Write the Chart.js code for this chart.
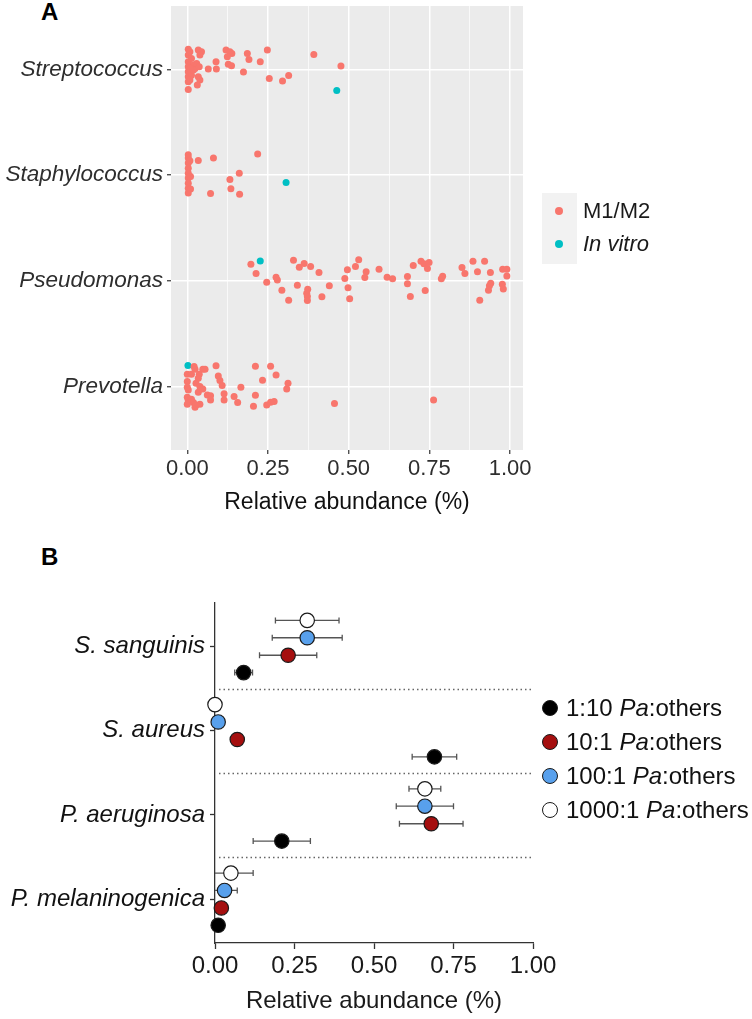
<!DOCTYPE html>
<html>
<head>
<meta charset="utf-8">
<script src="https://cdn.jsdelivr.net/npm/chart.js@4.4.1/dist/chart.umd.min.js"></script>
<style>
  body { margin: 0; background: #fff; font-family: 'Liberation Sans', Arial, sans-serif; }
  #wrap { position: relative; width: 752px; height: 1019px; overflow: hidden; }
  canvas { position: absolute; left: 0; }
  .panel { position: absolute; font-weight: bold; font-size: 24px; color: #000; line-height: 1; }
  .leg { position: absolute; font-size: 22px; color: #1a1a1a; white-space: nowrap; line-height: 26px; height: 26px; }
  .legB { font-size: 24px; line-height: 28px; height: 28px; color: #111; }
  .dot { position: absolute; border-radius: 50%; box-sizing: border-box; }
</style>
</head>
<body>
<div id="wrap">
  <div class="panel" style="left:41px; top:0px;">A</div>
  <div class="panel" style="left:41px; top:545px;">B</div>
  <canvas id="chartA" width="752" height="540" style="top:0"></canvas>
  <canvas id="chartB" width="752" height="479" style="top:540px"></canvas>
  <div id="legendA"></div>
  <div id="legendB"></div>
</div>

<script>
// ---- panel A: genus abundance, M1/M2 vs in vitro ----
const genera = ['Streptococcus', 'Staphylococcus', 'Pseudomonas', 'Prevotella'];
const groupsA = ['M1/M2', 'In vitro'];
const xTicksA = [0, 0.125, 0.25, 0.375, 0.5, 0.625, 0.75, 0.875, 1];

// [relative abundance, vertical jitter]
const streptococcusM1M2 = [
  [0.003, -0.19], [0.003, -0.136], [0.003, -0.073], [0.003, -0.025], [0.003, 0.022],
  [0.003, 0.069], [0.003, 0.117], [0.003, 0.189], [0.008, -0.167], [0.013, -0.104],
  [0.019, -0.041], [0.024, -0.009], [0.013, 0.054], [0.008, 0.101], [0.034, -0.183],
  [0.044, -0.167], [0.039, -0.136], [0.029, -0.057], [0.037, -0.025], [0.034, 0.069],
  [0.039, 0.101], [0.031, 0.148], [0.019, 0.006], [0.008, -0.01], [0.065, -0.003],
  [0.089, -0.073], [0.090, -0.003], [0.120, -0.183], [0.132, -0.167], [0.138, -0.151],
  [0.124, -0.120], [0.127, -0.050], [0.137, -0.035], [0.174, 0.025], [0.186, -0.151],
  [0.191, -0.095], [0.226, -0.073], [0.248, -0.183], [0.254, 0.085], [0.295, 0.110],
  [0.314, 0.057], [0.392, -0.142], [0.476, -0.032]
];
const streptococcusInVitro = [[0.463, 0.199]];

const staphylococcusM1M2 = [
  [0.003, -0.192], [0.003, -0.161], [0.003, -0.114], [0.003, -0.066], [0.003, -0.019],
  [0.003, 0.028], [0.003, 0.076], [0.003, 0.123], [0.003, 0.170], [0.008, -0.136],
  [0.010, 0.013], [0.010, 0.132], [0.034, -0.139], [0.081, -0.161], [0.218, -0.199],
  [0.161, -0.019], [0.132, 0.041], [0.135, 0.129], [0.072, 0.174], [0.162, 0.180]
];
const staphylococcusInVitro = [[0.306, 0.069]];

const pseudomonasM1M2 = [
  [0.197, -0.158], [0.213, -0.069], [0.246, 0.013], [0.275, -0.035], [0.279, -0.009],
  [0.293, 0.088], [0.314, 0.183], [0.329, -0.196], [0.347, -0.129], [0.362, -0.164],
  [0.341, 0.041], [0.382, -0.136], [0.373, 0.079], [0.370, 0.117], [0.372, 0.148],
  [0.372, 0.186], [0.408, -0.079], [0.417, 0.151], [0.440, 0.047], [0.488, -0.022],
  [0.496, -0.104], [0.498, 0.066], [0.503, 0.170], [0.521, -0.136], [0.531, -0.199],
  [0.554, -0.085], [0.550, -0.032], [0.594, -0.110], [0.619, -0.035], [0.636, -0.019],
  [0.682, -0.041], [0.682, 0.028], [0.691, 0.148], [0.700, -0.145], [0.724, -0.186],
  [0.733, -0.161], [0.749, -0.174], [0.744, -0.117], [0.737, 0.091], [0.787, -0.019],
  [0.791, -0.044], [0.851, -0.126], [0.860, -0.069], [0.885, -0.186], [0.899, -0.085],
  [0.921, -0.186], [0.939, -0.079], [0.940, 0.022], [0.936, 0.047], [0.933, 0.088],
  [0.906, 0.183], [0.977, -0.110], [0.990, -0.110], [0.990, -0.047], [0.976, 0.032],
  [0.979, 0.076]
];
const pseudomonasInVitro = [[0.226, -0.189]];

const prevotellaM1M2 = [
  [0.021, -0.189], [0.024, -0.164], [0.048, -0.164], [0.055, -0.164], [0.089, -0.196],
  [0.000, -0.117], [0.013, -0.117], [0.037, -0.117], [0.034, -0.079], [0.000, -0.047],
  [0.027, -0.032], [0.039, 0.000], [0.000, 0.006], [0.003, 0.032], [0.034, 0.054],
  [0.048, 0.022], [0.062, 0.079], [0.072, 0.088], [0.072, 0.126], [0.000, 0.101],
  [0.003, 0.132], [0.000, 0.167], [0.013, 0.120], [0.019, 0.151], [0.024, 0.196],
  [0.039, 0.167], [0.027, 0.174], [0.096, -0.101], [0.101, -0.057], [0.108, -0.009],
  [0.114, 0.069], [0.114, 0.126], [0.145, 0.095], [0.156, 0.151], [0.166, 0.006],
  [0.211, -0.192], [0.258, -0.192], [0.275, -0.110], [0.233, -0.060], [0.312, -0.032],
  [0.308, 0.022], [0.211, 0.082], [0.205, 0.186], [0.246, 0.174], [0.258, 0.148],
  [0.269, 0.142], [0.456, 0.161], [0.763, 0.126]
];
const prevotellaInVitro = [[0.002, -0.199]];

// ---- panel B: co-culture ratios ----
const species = ['S. sanguinis', 'S. aureus', 'P. aeruginosa', 'P. melaninogenica'];
const ratios = ['1:10', '10:1', '100:1', '1000:1'];
const xTicksB = [0, 0.25, 0.5, 0.75, 1];

const mean1to10 = [0.09, 0.69, 0.21, 0.01];
const err1to10 = [0.028, 0.07, 0.09, 0];
const mean10to1 = [0.23, 0.07, 0.68, 0.02];
const err10to1 = [0.09, 0.005, 0.10, 0];
const mean100to1 = [0.29, 0.01, 0.66, 0.03];
const err100to1 = [0.11, 0, 0.09, 0.04];
const mean1000to1 = [0.29, 0.0, 0.66, 0.05];
const err1000to1 = [0.10, 0, 0.05, 0.07];

const FONT = "'Liberation Sans', Arial, sans-serif";
const colM1 = '#F8766D';
const colVitro = '#00BFC4';
const ratioColors = ['#000000', '#A50F0F', '#58A0EC', '#FFFFFF'];
const dodge = [0.31, 0.104, -0.104, -0.31];

// ---------- chart A ----------
const toPoints = (pairs, cat) => pairs.map(([x, j]) => ({ x: x, y: cat + j }));
const m1Data = [streptococcusM1M2, staphylococcusM1M2, pseudomonasM1M2, prevotellaM1M2]
  .flatMap((arr, i) => toPoints(arr, i + 1));
const vitroData = [streptococcusInVitro, staphylococcusInVitro, pseudomonasInVitro, prevotellaInVitro]
  .flatMap((arr, i) => toPoints(arr, i + 1));

const isMajor = v => Math.abs(v * 4 - Math.round(v * 4)) < 1e-9;

const panelBackground = {
  id: 'panelBackground',
  beforeDraw(chart) {
    const { ctx, chartArea: a } = chart;
    ctx.save();
    ctx.fillStyle = '#EBEBEB';
    ctx.fillRect(a.left, a.top, a.right - a.left, a.bottom - a.top);
    ctx.restore();
  }
};

new Chart(document.getElementById('chartA'), {
  type: 'scatter',
  data: {
    datasets: [
      { label: groupsA[0], data: m1Data, pointRadius: 3.5, pointBackgroundColor: colM1, pointBorderWidth: 0 },
      { label: groupsA[1], data: vitroData, pointRadius: 3.5, pointBackgroundColor: colVitro, pointBorderWidth: 0 }
    ]
  },
  options: {
    responsive: false,
    animation: false,
    devicePixelRatio: 1,
    layout: { padding: { left: 0, right: 229, top: 6, bottom: 0 } },
    plugins: { legend: { display: false }, tooltip: { enabled: false } },
    scales: {
      x: {
        type: 'linear', min: -0.0505, max: 1.04,
        afterBuildTicks: s => { s.ticks = xTicksA.map(v => ({ value: v })); },
        afterFit: s => { s.height = 90; },
        border: { display: false },
        grid: {
          color: '#FFFFFF',
          lineWidth: c => (c.tick && isMajor(c.tick.value)) ? 1.5 : 0.7,
          drawTicks: true, tickLength: 4, tickWidth: 1.2,
          tickColor: c => (c.tick && isMajor(c.tick.value)) ? '#333333' : 'rgba(0,0,0,0)'
        },
        ticks: {
          autoSkip: false, maxRotation: 0, padding: 2, color: '#2e2e2e',
          font: { family: FONT, size: 22 },
          callback: v => isMajor(v) ? v.toFixed(2) : ''
        },
        title: {
          display: true, text: 'Relative abundance (%)', color: '#111111',
          font: { family: FONT, size: 23 }, padding: { top: 0, bottom: 24 }
        }
      },
      y: {
        type: 'linear', reverse: true, min: 0.4, max: 4.6,
        afterBuildTicks: s => { s.ticks = genera.map((g, i) => ({ value: i + 1 })); },
        afterFit: s => { s.width = 171; s.paddingTop = 0; s.paddingBottom = 0; },
        border: { display: false },
        grid: { color: '#FFFFFF', lineWidth: 1.5, tickLength: 4, tickWidth: 1.2, tickColor: '#333333' },
        ticks: {
          padding: 4, color: '#2e2e2e',
          font: { family: FONT, size: 22.5, style: 'italic' },
          callback: v => genera[Math.round(v) - 1]
        }
      }
    }
  },
  plugins: [panelBackground]
});

// ---------- chart B ----------
const meansB = [mean1to10, mean10to1, mean100to1, mean1000to1];
const errsB = [err1to10, err10to1, err100to1, err1000to1];

const datasetsB = ratios.map((r, g) => ({
  label: r + ' Pa:others',
  data: species.map((s, i) => ({ x: meansB[g][i], y: i + 1 + dodge[g], err: errsB[g][i] })),
  pointRadius: 7.2,
  pointBackgroundColor: ratioColors[g],
  pointBorderColor: '#1a1a1a',
  pointBorderWidth: 1.2,
  clip: false
}));

const errorBars = {
  id: 'errorBars',
  beforeDatasetsDraw(chart) {
    const { ctx, scales: { x, y } } = chart;
    ctx.save();
    ctx.strokeStyle = '#555555';
    ctx.lineWidth = 1.3;
    chart.data.datasets.forEach(ds => ds.data.forEach(p => {
      if (!p.err) return;
      const py = y.getPixelForValue(p.y);
      const lo = p.x - p.err;
      const x1 = x.getPixelForValue(Math.max(0, lo));
      const x2 = x.getPixelForValue(p.x + p.err);
      ctx.beginPath();
      ctx.moveTo(x1, py); ctx.lineTo(x2, py);
      if (lo > 0) { ctx.moveTo(x1, py - 3); ctx.lineTo(x1, py + 3); }
      ctx.moveTo(x2, py - 3); ctx.lineTo(x2, py + 3);
      ctx.stroke();
    }));
    ctx.restore();
  }
};

const separators = {
  id: 'separators',
  beforeDatasetsDraw(chart) {
    const { ctx, chartArea: a, scales: { y } } = chart;
    ctx.save();
    ctx.strokeStyle = '#666666';
    ctx.lineWidth = 1.5;
    ctx.setLineDash([1.5, 3]);
    for (let i = 1; i < species.length; i++) {
      const py = Math.round(y.getPixelForValue(i + 0.5)) + 0.5;
      ctx.beginPath();
      ctx.moveTo(a.left + 4, py);
      ctx.lineTo(a.right, py);
      ctx.stroke();
    }
    ctx.restore();
  }
};

new Chart(document.getElementById('chartB'), {
  type: 'scatter',
  data: { datasets: datasetsB },
  options: {
    responsive: false,
    animation: false,
    devicePixelRatio: 1,
    layout: { padding: { left: 0, right: 219, top: 62.7, bottom: 0 } },
    plugins: { legend: { display: false }, tooltip: { enabled: false } },
    scales: {
      x: {
        type: 'linear', min: 0, max: 1,
        afterBuildTicks: s => { s.ticks = xTicksB.map(v => ({ value: v })); },
        afterFit: s => { s.height = 76; },
        border: { display: true, color: '#333333', width: 1.3 },
        grid: { drawOnChartArea: false, drawTicks: true, tickLength: 6, tickWidth: 1.3, tickColor: '#333333' },
        ticks: {
          autoSkip: false, maxRotation: 0, padding: 3, color: '#1a1a1a',
          font: { family: FONT, size: 24 },
          callback: v => v.toFixed(2)
        },
        title: {
          display: true, text: 'Relative abundance (%)', color: '#1a1a1a',
          font: { family: FONT, size: 24 }, padding: { top: 0, bottom: 3 }
        }
      },
      y: {
        type: 'linear', reverse: true, min: 0.48, max: 4.52,
        afterBuildTicks: s => { s.ticks = species.map((sp, i) => ({ value: i + 1 })); },
        afterFit: s => { s.width = 215; },
        border: { display: true, color: '#333333', width: 1.3 },
        grid: { drawOnChartArea: false, drawTicks: true, tickLength: 5, tickWidth: 1.3, tickColor: '#333333' },
        ticks: {
          padding: 5, color: '#111111',
          font: { family: FONT, size: 24, style: 'italic' },
          callback: v => species[Math.round(v) - 1]
        }
      }
    }
  },
  plugins: [separators, errorBars]
});

// ---------- legends ----------
const legA = document.getElementById('legendA');
legA.innerHTML =
  '<div style="position:absolute;left:542px;top:193px;width:35px;height:71px;background:#F2F2F2"></div>' +
  [colM1, colVitro].map((c, i) => {
    const cy = 211 + i * 33;
    const label = i === 1 ? '<i>' + groupsA[1] + '</i>' : groupsA[0];
    return '<div class="dot" style="left:555px;top:' + (cy - 4) + 'px;width:8px;height:8px;background:' + c + '"></div>' +
      '<div class="leg" style="left:583px;top:' + (cy - 13) + 'px">' + label + '</div>';
  }).join('');

const legB = document.getElementById('legendB');
legB.innerHTML = ratios.map((r, g) => {
  const cy = 708 + g * 34;
  return '<div class="dot" style="left:542px;top:' + (cy - 8) + 'px;width:16px;height:16px;background:' +
    ratioColors[g] + ';border:1.3px solid #1a1a1a"></div>' +
    '<div class="leg legB" style="left:566px;top:' + (cy - 14) + 'px">' + r + ' <i>Pa</i>:others</div>';
}).join('');
</script>
</body>
</html>
